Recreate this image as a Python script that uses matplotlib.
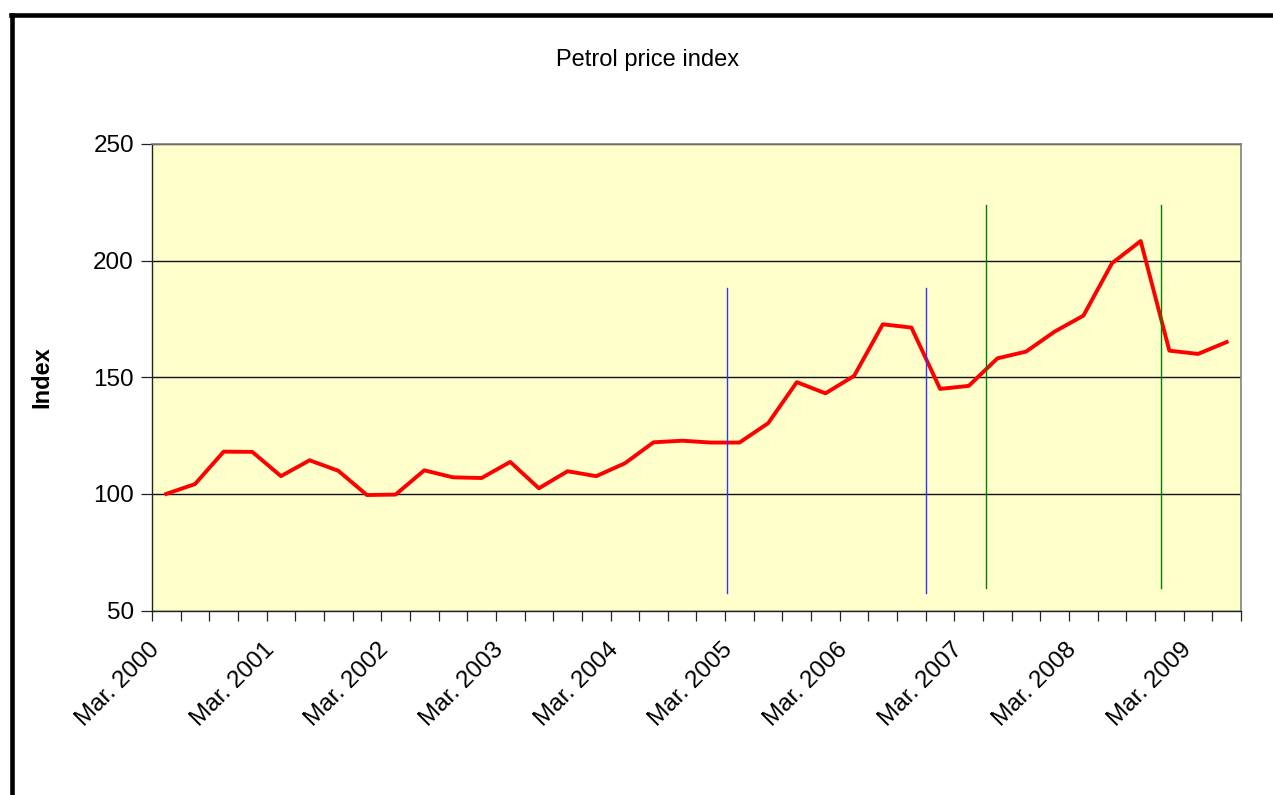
import matplotlib.pyplot as plt
from matplotlib.lines import Line2D
from matplotlib.transforms import ScaledTranslation

plt.rcParams['font.family'] = ['Liberation Sans', 'DejaVu Sans']

# quarterly petrol price index, Mar. 2000 = 100
years = list(range(2000, 2010))
months = ['Mar.', 'Jun.', 'Sep.', 'Dec.']
quarters = [f'{m} {y}' for y in years for m in months][:38]
index_values = [100.0, 104.2, 118.1, 118.0, 107.6, 114.4, 109.9, 99.5,
                99.7, 110.1, 107.1, 106.8, 113.7, 102.4, 109.7, 107.6,
                113.1, 122.1, 122.8, 122.0, 122.0, 130.3, 147.9, 143.1,
                150.6, 172.7, 171.3, 145.0, 146.3, 158.1, 161.0, 169.6,
                176.4, 198.9, 208.4, 161.4, 160.0, 165.1]

# marker lines drawn over the chart (category position, bottom, top)
blue_x = [19.56, 26.5]
blue_y = (57.6, 188.3)
green_x = [28.61, 34.7]
green_y = (59.7, 223.9)

fig = plt.figure(figsize=(12.73, 7.95), dpi=100)
ax = fig.add_axes([152 / 1273, 1 - 610.5 / 795, (1241 - 152) / 1273, (610.5 - 144) / 795])
ax.set_facecolor('#FFFFCC')

x = list(range(len(index_values)))
ax.plot(x, index_values, color='#FF0000', linewidth=2.8, zorder=3)

for bx in blue_x:
    ax.plot([bx, bx], blue_y, color='#3333FF', linewidth=1.0, zorder=4)
for gx in green_x:
    ax.plot([gx, gx], green_y, color='#008000', linewidth=1.0, zorder=4)

ax.set_xlim(-0.5, len(index_values) - 0.5)
ax.set_ylim(50, 250)
ax.set_yticks([50, 100, 150, 200, 250])
ax.yaxis.grid(True, color='#111111', linewidth=1.0)
ax.set_axisbelow(True)

# category labels every 4th quarter, rotated like Excel does them
ax.set_xticks([])
offset = ScaledTranslation(-10 / 100, -36 / 100, fig.dpi_scale_trans)
for i in x[::4]:
    ax.text(i, 0, quarters[i], transform=ax.get_xaxis_transform() + offset,
            rotation=45, ha='right', va='center', rotation_mode='anchor',
            fontsize=17.5)
ax.set_xticks([i - 0.5 for i in range(len(index_values) + 1)], minor=True)
ax.tick_params(axis='x', which='minor', length=7, width=0.9, color='#222222')
ax.tick_params(axis='y', length=8, width=0.9, color='#222222', labelsize=17.5, pad=5)

for side in ['top', 'right']:
    ax.spines[side].set_color('#808080')
    ax.spines[side].set_linewidth(1.2)
for side in ['left', 'bottom']:
    ax.spines[side].set_color('#222222')
    ax.spines[side].set_linewidth(1.0)

ax.set_ylabel('Index', fontsize=17, fontweight='bold', va='center')
ax.yaxis.set_label_coords((42 - 152) / 1089, 0.5)
fig.text(648 / 1273, 1 - 60 / 795, 'Petrol price index', fontsize=17,
         ha='center', va='center')

# outer chart border (top and left visible)
fig.add_artist(Line2D([11 / 1273, 1], [1 - 15 / 795, 1 - 15 / 795],
                      color='black', linewidth=3.3, transform=fig.transFigure))
fig.add_artist(Line2D([12 / 1273, 12 / 1273], [0, 1 - 15 / 795],
                      color='black', linewidth=3.3, transform=fig.transFigure))

fig.savefig('out.png', dpi=100)
